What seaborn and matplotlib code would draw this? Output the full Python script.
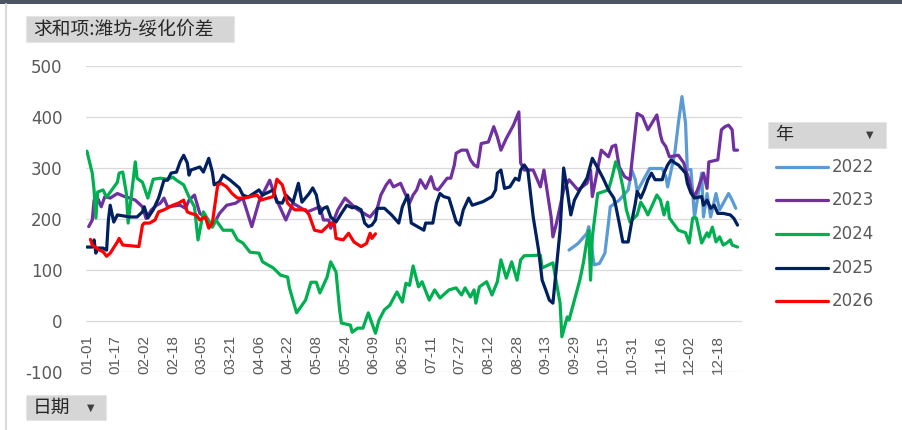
import pandas as pd
import seaborn as sns
import matplotlib.pyplot as plt
from matplotlib import font_manager
from matplotlib.lines import Line2D
from matplotlib.patches import Rectangle

years = ["2022", "2023", "2024", "2025", "2026"]
colors = ["#5B9BD5", "#7030A0", "#00B050", "#002060", "#FF0000"]

# category axis: every month-day of a leap year
days = pd.date_range("2024-01-01", "2024-12-31").strftime("%m-%d").tolist()
tick_labels = ["01-01", "01-17", "02-02", "02-18", "03-05", "03-21", "04-06", "04-22",
               "05-08", "05-24", "06-09", "06-25", "07-11", "07-27", "08-12", "08-28",
               "09-13", "09-29", "10-15", "10-31", "11-16", "12-02", "12-18"]
y_ticks = [500, 400, 300, 200, 100, 0, -100]

d2022 = ["09-26", "10-01", "10-06", "10-07", "10-10", "10-13", "10-16", "10-18", "10-19", "10-24",
         "10-29", "10-31", "11-02", "11-03", "11-10", "11-17", "11-19", "11-20", "11-24", "11-26",
         "11-28", "11-30", "12-01", "12-03", "12-05", "12-09", "12-10", "12-12", "12-14", "12-17",
         "12-19", "12-24", "12-26", "12-28"]
v2022 = [139, 152, 172, 185, 110, 113, 133, 192, 224, 237,
         257, 296, 277, 254, 299, 299, 283, 263, 329, 388,
         440, 388, 297, 297, 204, 290, 204, 250, 204, 250,
         218, 250, 237, 221]

d2023 = ["01-02", "01-04", "01-05", "01-07", "01-09", "01-11", "01-14", "01-18", "01-22", "01-25",
         "01-28", "02-01", "02-03", "02-06", "02-09", "02-11", "02-13", "02-15", "02-22", "02-25",
         "02-27", "03-01", "03-04", "03-08", "03-11", "03-15", "03-19", "03-24", "03-28", "04-02",
         "04-06", "04-12", "04-15", "04-21", "04-25", "05-03", "05-10", "05-12", "05-15", "05-16",
         "05-20", "05-24", "05-27", "05-30", "06-05", "06-07", "06-11", "06-13", "06-16", "06-18",
         "06-20", "06-24", "06-26", "06-29", "07-01", "07-03", "07-05", "07-08", "07-11", "07-13",
         "07-15", "07-20", "07-22", "07-24", "07-25", "07-28", "07-31", "08-02", "08-04", "08-06",
         "08-08", "08-12", "08-15", "08-17", "08-19", "08-22", "08-26", "08-29", "08-30", "09-01",
         "09-06", "09-10", "09-12", "09-16", "09-17", "09-19", "09-23", "09-26", "10-01", "10-06",
         "10-08", "10-09", "10-14", "10-18", "10-20", "10-22", "10-24", "10-27", "10-30", "11-03",
         "11-06", "11-09", "11-14", "11-16", "11-17", "11-19", "11-21", "11-26", "11-29", "11-30",
         "12-02", "12-03", "12-05", "12-07", "12-10", "12-12", "12-13", "12-18", "12-20", "12-22",
         "12-24", "12-26", "12-27", "12-29"]
v2023 = [185, 198, 237, 241, 224, 244, 241, 250, 244, 241,
         237, 224, 201, 218, 227, 231, 241, 224, 227, 221,
         237, 247, 211, 201, 185, 211, 227, 231, 241, 185,
         234, 276, 244, 198, 231, 214, 224, 198, 198, 182,
         218, 241, 231, 221, 208, 204, 221, 247, 267, 276,
         263, 270, 254, 231, 247, 257, 277, 260, 283, 260,
         257, 280, 280, 306, 329, 335, 335, 316, 306, 302,
         348, 351, 381, 361, 335, 358, 384, 410, 310, 296,
         296, 263, 296, 204, 165, 192, 257, 277, 257, 270,
         296, 244, 335, 322, 342, 345, 302, 283, 277, 407,
         401, 375, 404, 365, 352, 342, 322, 325, 310, 297,
         277, 260, 244, 260, 290, 260, 312, 316, 375, 381,
         384, 375, 335, 335]

d2024 = ["01-01", "01-04", "01-05", "01-06", "01-07", "01-10", "01-12", "01-18", "01-19", "01-21",
         "01-23", "01-24", "01-28", "01-29", "02-01", "02-04", "02-07", "02-11", "02-15", "02-18",
         "02-20", "02-24", "02-27", "03-01", "03-03", "03-06", "03-11", "03-13", "03-17", "03-22",
         "03-25", "03-28", "04-01", "04-06", "04-08", "04-14", "04-18", "04-22", "04-23", "04-27",
         "05-02", "05-05", "05-08", "05-10", "05-14", "05-16", "05-19", "05-21", "05-22", "05-27",
         "05-28", "05-31", "06-03", "06-06", "06-10", "06-12", "06-15", "06-18", "06-22", "06-25",
         "06-27", "06-29", "07-01", "07-04", "07-06", "07-10", "07-13", "07-16", "07-21", "07-25",
         "07-28", "07-30", "08-02", "08-04", "08-05", "08-07", "08-11", "08-14", "08-17", "08-19",
         "08-22", "08-25", "08-28", "08-30", "09-01", "09-10", "09-11", "09-17", "09-21", "09-22",
         "09-25", "09-26", "10-02", "10-04", "10-06", "10-07", "10-08", "10-09", "10-12", "10-18",
         "10-20", "10-22", "10-24", "10-26", "10-28", "10-30", "11-03", "11-05", "11-07", "11-09",
         "11-14", "11-16", "11-18", "11-20", "11-21", "11-26", "11-30", "12-02", "12-04", "12-06",
         "12-09", "12-12", "12-13", "12-15", "12-17", "12-19", "12-21", "12-23", "12-25", "12-26",
         "12-29"]
v2024 = [333, 290, 257, 202, 253, 257, 243, 272, 290, 292,
         251, 192, 312, 280, 272, 241, 278, 280, 278, 282,
         276, 267, 243, 224, 159, 214, 184, 198, 178, 178,
         159, 153, 135, 133, 116, 104, 90, 86, 65, 16,
         41, 76, 76, 55, 86, 116, 96, 22, -4, -8,
         -22, -14, -14, 16, -24, 2, 22, 31, 57, 37,
         74, 70, 108, 67, 77, 41, 61, 45, 61, 65,
         51, 65, 47, 61, 35, 67, 77, 51, 77, 120,
         84, 116, 80, 120, 128, 129, 104, 114, 35, -31,
         8, 2, 80, 114, 159, 178, 80, 165, 250, 257,
         282, 312, 296, 263, 218, 194, 208, 233, 222, 208,
         247, 237, 208, 233, 202, 178, 173, 153, 202, 202,
         153, 173, 165, 184, 155, 165, 149, 153, 159, 149,
         145]

d2025 = ["01-01", "01-04", "01-05", "01-06", "01-07", "01-10", "01-12", "01-13", "01-14", "01-16",
         "01-18", "01-25", "01-29", "02-01", "02-02", "02-04", "02-07", "02-10", "02-13", "02-15",
         "02-17", "02-20", "02-22", "02-24", "02-26", "02-27", "02-28", "03-04", "03-06", "03-09",
         "03-11", "03-12", "03-15", "03-17", "03-21", "03-24", "03-26", "03-28", "03-31", "04-06",
         "04-08", "04-14", "04-16", "04-19", "04-21", "04-25", "04-28", "04-30", "05-04", "05-06",
         "05-08", "05-10", "05-12", "05-14", "05-16", "05-19", "05-22", "05-25", "05-28", "05-30",
         "06-02", "06-04", "06-06", "06-08", "06-10", "06-11", "06-15", "06-19", "06-23", "06-25",
         "06-28", "06-30", "07-07", "07-08", "07-12", "07-14", "07-16", "07-18", "07-21", "07-23",
         "07-25", "07-27", "07-29", "08-01", "08-03", "08-09", "08-14", "08-16", "08-17", "08-19",
         "08-21", "08-24", "08-27", "08-29", "08-30", "09-01", "09-03", "09-06", "09-09", "09-11",
         "09-13", "09-15", "09-17", "09-19", "09-21", "09-23", "09-25", "09-26", "09-27", "09-29",
         "10-02", "10-06", "10-09", "10-12", "10-15", "10-18", "10-21", "10-22", "10-24", "10-26",
         "10-29", "10-31", "11-02", "11-03", "11-05", "11-07", "11-09", "11-11", "11-13", "11-17",
         "11-18", "11-20", "11-22", "11-24", "11-26", "11-30", "12-01", "12-03", "12-05", "12-09",
         "12-10", "12-12", "12-14", "12-16", "12-18", "12-21", "12-25", "12-27", "12-29"]
v2025 = [145, 145, 159, 133, 143, 143, 139, 198, 227, 194,
         208, 204, 204, 214, 224, 202, 218, 241, 276, 276,
         290, 292, 312, 325, 310, 286, 296, 302, 292, 319,
         292, 267, 273, 286, 276, 267, 261, 247, 243, 257,
         247, 257, 233, 231, 247, 233, 270, 233, 250, 261,
         247, 211, 221, 224, 204, 194, 211, 227, 222, 224,
         218, 192, 185, 188, 198, 221, 221, 208, 192, 224,
         247, 192, 178, 192, 192, 231, 250, 244, 241, 218,
         195, 188, 218, 241, 227, 234, 244, 257, 290, 296,
         260, 263, 280, 276, 296, 306, 296, 204, 139, 80,
         61, 41, 35, 106, 178, 300, 257, 231, 208, 237,
         257, 280, 319, 300, 280, 257, 241, 227, 192, 155,
         155, 195, 231, 254, 241, 257, 277, 290, 277, 277,
         290, 306, 316, 310, 306, 290, 270, 251, 241, 244,
         227, 237, 221, 227, 211, 211, 208, 201, 188]

d2026 = ["01-03", "01-04", "01-08", "01-10", "01-12", "01-14", "01-18", "01-19", "01-21", "01-30",
         "02-01", "02-02", "02-05", "02-08", "02-10", "02-13", "02-18", "02-21", "02-24", "02-26",
         "02-28", "03-02", "03-04", "03-07", "03-09", "03-11", "03-14", "03-16", "03-19", "03-22",
         "03-25", "03-29", "04-05", "04-07", "04-14", "04-16", "04-19", "04-22", "04-24", "04-26",
         "05-02", "05-04", "05-07", "05-11", "05-16", "05-18", "05-19", "05-23", "05-26", "05-29",
         "06-02", "06-05", "06-07", "06-08", "06-10"]
v2026 = [160, 149, 139, 136, 127, 133, 155, 162, 149, 146,
         188, 192, 192, 198, 214, 218, 227, 231, 237, 214,
         211, 208, 198, 204, 182, 192, 267, 270, 263, 250,
         241, 241, 247, 237, 244, 278, 267, 231, 224, 218,
         218, 208, 178, 175, 192, 190, 162, 159, 172, 155,
         146, 152, 172, 162, 171]

series = {"2022": (d2022, v2022), "2023": (d2023, v2023), "2024": (d2024, v2024),
          "2025": (d2025, v2025), "2026": (d2026, v2026)}

df = pd.concat([pd.DataFrame({"年": y, "日期": d, "价差": v}) for y, (d, v) in series.items()],
               ignore_index=True)
day_pos = {d: i for i, d in enumerate(days)}
df["pos"] = df["日期"].map(day_pos)

sns.set_style("white")
plt.rcParams["font.family"] = ["DejaVu Sans", "Noto Sans CJK SC"]
plt.rcParams["lines.solid_joinstyle"] = "round"
plt.rcParams["lines.solid_capstyle"] = "round"
cjk = ["Noto Sans CJK SC", "DejaVu Sans"]
names = {f.name for f in font_manager.fontManager.ttflist}
if "Liberation Sans Narrow" in names:
    xfont, xsize = "Liberation Sans Narrow", 13
elif "Liberation Sans" in names:
    xfont, xsize = "Liberation Sans", 11
else:
    xfont, xsize = "DejaVu Sans", 9.5

W, H = 902, 430
fig = plt.figure(figsize=(W / 100, H / 100), dpi=100)
ax = fig.add_axes([86 / W, 1 - 372 / H, 656 / W, 306 / H])

sns.lineplot(data=df, x="pos", y="价差", hue="年", palette=dict(zip(years, colors)),
             estimator=None, sort=False, linewidth=2.3, legend=False, ax=ax)

ax.set_xlim(-0.5, len(days) - 0.5)
ax.set_ylim(-100, 500)
ax.set_yticks(y_ticks)
ax.set_yticklabels([str(t) for t in y_ticks], fontsize=12, color="#595959")
ax.set_xticks([day_pos[t] for t in tick_labels])
ax.set_xticklabels(tick_labels, rotation=90, fontfamily=xfont, fontsize=xsize, color="#595959")
ax.tick_params(axis="x", length=0, pad=-26.6)
ax.tick_params(axis="y", length=0, pad=17)
ax.set_xlabel("")
ax.set_ylabel("")
ax.yaxis.grid(True, color="#d9d9d9", linewidth=0.9)
ax.xaxis.grid(False)
ax.set_axisbelow(True)
for s in ax.spines.values():
    s.set_visible(False)

# legend drawn by hand next to the plot
for i, (y, c) in enumerate(zip(years, colors)):
    yy = 1 - (166.5 + i * 33.7) / H
    fig.add_artist(Line2D([776 / W, 828 / W], [yy, yy], color=c, linewidth=2.3,
                          transform=fig.transFigure))
    fig.text(832 / W, yy, y, fontsize=12, color="#595959", va="center", ha="left")

# pivot field buttons
def button(x0, y0, x1, y1, label, size, arrow_x=None):
    fig.add_artist(Rectangle((x0 / W, 1 - y1 / H), (x1 - x0) / W, (y1 - y0) / H,
                             transform=fig.transFigure, facecolor="#d6d6d6",
                             edgecolor="#e6e6e6", linewidth=0.8))
    fig.text((x0 + 7) / W, 1 - (y0 + y1) / 2 / H, label, family=cjk, fontsize=size,
             color="#262626", va="center", ha="left")
    if arrow_x is not None:
        fig.text(arrow_x / W, 1 - (y0 + y1) / 2 / H, "▼", fontsize=7,
                 color="#404040", va="center", ha="center")

button(26, 16, 234, 42, "求和项:潍坊-绥化价差", 13.5)
button(26, 395, 106, 420, "日期", 13.5, arrow_x=91)
button(768, 122, 886, 148, "年", 13, arrow_x=870)

# window frame
fig.add_artist(Rectangle((0, 1 - 4 / H), 1, 4 / H, transform=fig.transFigure,
                         facecolor="#4b5563", edgecolor="none"))
fig.add_artist(Line2D([6 / W, 6 / W], [0, 1 - 4 / H], color="#d9d9d9", linewidth=1.5,
                      transform=fig.transFigure))

fig.savefig("out.png", dpi=100, facecolor="white")
